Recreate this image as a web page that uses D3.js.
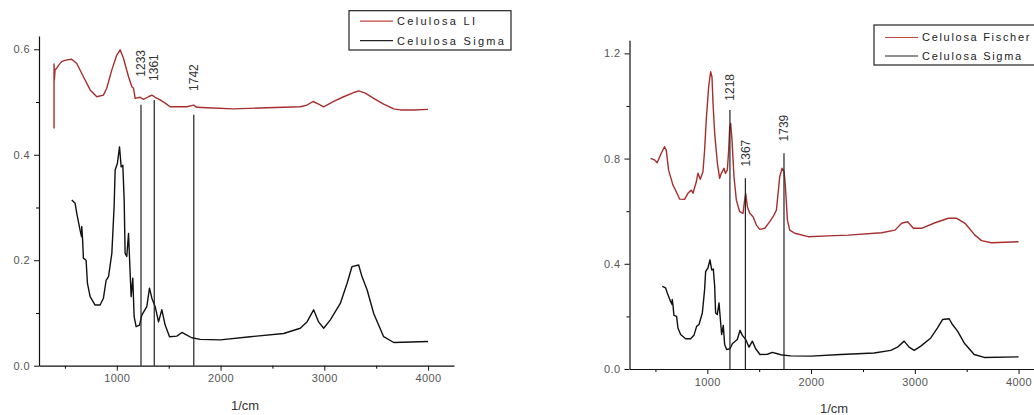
<!DOCTYPE html>
<html>
<head>
<meta charset="utf-8">
<script src="https://cdn.jsdelivr.net/npm/d3@7"></script>
<style>
  html, body { margin: 0; padding: 0; background: #fff; }
  svg { display: block; }
  text { font-family: Arial, "Liberation Sans", sans-serif; }
</style>
</head>
<body>
<svg id="chart" width="1034" height="415"></svg>
<script>
// ---------- DATA ----------
const celulosaLI = [
  [395,0.450],[395,0.572],[398,0.542],[405,0.561],[420,0.564],[440,0.570],[470,0.577],[520,0.580],[566,0.581],
  [614,0.573],[678,0.548],[743,0.523],[807,0.510],[871,0.513],[903,0.526],[952,0.561],[1000,0.589],[1032,0.599],
  [1064,0.583],[1113,0.548],[1145,0.529],[1161,0.526],[1177,0.507],[1225,0.509],[1257,0.505],[1305,0.510],
  [1338,0.513],[1370,0.509],[1418,0.504],[1466,0.498],[1514,0.491],[1611,0.491],[1675,0.491],[1740,0.494],
  [1772,0.490],[1868,0.489],[2125,0.487],[2447,0.489],[2768,0.491],[2833,0.494],[2891,0.501],[2945,0.496],
  [2994,0.491],[3090,0.501],[3186,0.510],[3283,0.518],[3331,0.521],[3395,0.517],[3476,0.507],[3572,0.496],
  [3669,0.487],[3733,0.485],[3862,0.485],[4000,0.486]
];
const celulosaSigma = [
  [566,0.314],[598,0.308],[614,0.289],[646,0.257],[660,0.245],[662,0.264],[670,0.240],[678,0.204],[704,0.200],
  [717,0.156],[743,0.131],[791,0.115],[839,0.115],[871,0.128],[897,0.162],[920,0.169],[952,0.213],[974,0.302],
  [984,0.371],[1006,0.384],[1026,0.415],[1042,0.377],[1058,0.380],[1071,0.314],[1080,0.213],[1096,0.207],
  [1113,0.251],[1122,0.207],[1138,0.131],[1154,0.166],[1167,0.093],[1186,0.074],[1219,0.077],[1241,0.096],
  [1289,0.112],[1315,0.147],[1338,0.128],[1370,0.112],[1402,0.083],[1434,0.106],[1466,0.077],[1508,0.055],
  [1579,0.056],[1627,0.063],[1675,0.058],[1723,0.053],[1804,0.050],[1997,0.049],[2286,0.055],[2608,0.061],
  [2768,0.071],[2833,0.083],[2897,0.106],[2945,0.083],[2994,0.071],[3058,0.087],[3154,0.118],[3219,0.156],
  [3267,0.188],[3331,0.191],[3363,0.169],[3412,0.144],[3476,0.099],[3572,0.055],[3669,0.044],[4000,0.046]
];
const celulosaFischer = [
  [453,0.801],[491,0.795],[517,0.784],[556,0.820],[588,0.845],[604,0.832],[627,0.756],[668,0.700],[701,0.674],
  [733,0.646],[781,0.645],[813,0.668],[846,0.680],[862,0.668],[894,0.712],[910,0.744],[932,0.721],[958,0.750],
  [974,0.832],[990,0.947],[1013,1.073],[1032,1.130],[1045,1.110],[1055,1.010],[1071,0.896],[1097,0.782],
  [1119,0.725],[1135,0.744],[1161,0.763],[1174,0.744],[1193,0.756],[1206,0.832],[1216,0.921],[1225,0.934],
  [1238,0.871],[1257,0.731],[1280,0.642],[1312,0.598],[1344,0.592],[1360,0.642],[1370,0.668],[1386,0.617],
  [1409,0.592],[1441,0.579],[1473,0.547],[1505,0.531],[1554,0.535],[1602,0.560],[1634,0.579],[1666,0.604],
  [1698,0.731],[1721,0.763],[1740,0.750],[1753,0.693],[1772,0.566],[1795,0.528],[1843,0.516],[1972,0.503],
  [2165,0.506],[2358,0.509],[2680,0.518],[2809,0.528],[2873,0.554],[2931,0.560],[2986,0.535],[3066,0.535],
  [3195,0.556],[3324,0.573],[3404,0.573],[3484,0.554],[3579,0.509],[3643,0.488],[3740,0.480],[4000,0.484]
];
// marker lines: wavenumber, top of line (y value), label anchor (y value)
const markersLeft = [
  {wn:1233, top:0.495, label:0.548},
  {wn:1361, top:0.504, label:0.540},
  {wn:1742, top:0.476, label:0.521}
];
const markersRight = [
  {wn:1218, top:0.985, label:1.02},
  {wn:1367, top:0.725, label:0.77},
  {wn:1739, top:0.820, label:0.865}
];
const xDomain = [250, 4250];
const xMajorTicks = [1000, 2000, 3000, 4000];
const xMinorTicks = [500, 1500, 2500, 3500];
const yLeftDomain = [0, 0.625];
const yLeftMajor = [0, 0.2, 0.4, 0.6];
const yLeftMinor = [0.1, 0.3, 0.5];
const yRightDomain = [0, 1.25];
const yRightMajor = [0, 0.4, 0.8, 1.2];
const yRightMinor = [0.2, 0.6, 1.0];
const legendLeft = ["Celulosa LI", "Celulosa Sigma"];
const legendRight = ["Celulosa Fischer", "Celulosa Sigma"];
const xTitle = "1/cm";

// ---------- DRAW ----------
const RED = "#a52f2f";
const svg = d3.select("#chart");

function panel(cfg) {
  const g = svg.append("g");
  const x = d3.scaleLinear().domain(xDomain).range([cfg.x0, cfg.x1]);
  const y = d3.scaleLinear().domain(cfg.yDomain).range([cfg.yBottom, cfg.yTop]);

  // minor ticks
  g.append("g").attr("transform", `translate(0,${cfg.yBottom})`)
    .call(d3.axisBottom(x).tickValues(xMinorTicks).tickSize(3).tickFormat(""))
    .call(a => a.select(".domain").remove());
  g.append("g").attr("transform", `translate(${cfg.x0},0)`)
    .call(d3.axisLeft(y).tickValues(cfg.yMinor).tickSize(3).tickFormat(""))
    .call(a => a.select(".domain").remove());

  const xa = g.append("g").attr("transform", `translate(0,${cfg.yBottom})`)
    .call(d3.axisBottom(x).tickValues(xMajorTicks).tickSize(5).tickPadding(4).tickSizeOuter(0).tickFormat(d3.format("d")));
  const ya = g.append("g").attr("transform", `translate(${cfg.x0},0)`)
    .call(d3.axisLeft(y).tickValues(cfg.yMajor).tickSize(5).tickPadding(4).tickSizeOuter(0).tickFormat(d3.format(".1f")));
  [xa, ya].forEach(a => {
    a.selectAll("text").attr("font-size", 11).attr("letter-spacing", "0.4px").attr("fill", "#555")
      .attr("font-family", "Arial, 'Liberation Sans', sans-serif");
    a.selectAll("line").attr("stroke", "#111");
    a.select(".domain").attr("stroke", "#111").attr("stroke-width", 1.2);
  });

  const line = d3.line().x(d => x(d[0])).y(d => y(d[1]));
  cfg.series.forEach(s => {
    g.append("path").datum(s.data).attr("d", line)
      .attr("fill", "none").attr("stroke", s.color).attr("stroke-width", 1.4)
      .attr("stroke-linejoin", "round");
  });

  // markers
  cfg.markers.forEach(m => {
    g.append("line").attr("x1", x(m.wn)).attr("x2", x(m.wn))
      .attr("y1", y(m.top)).attr("y2", y(0))
      .attr("stroke", "#222").attr("stroke-width", 1.2);
    g.append("text")
      .attr("transform", `translate(${x(m.wn)},${y(m.label)}) rotate(-90)`)
      .attr("dy", "0.35em").attr("font-size", 12).attr("fill", "#333")
      .text(m.wn);
  });

  // x title
  g.append("text").attr("x", cfg.titleX).attr("y", cfg.titleY)
    .attr("text-anchor", "middle").attr("font-size", 13).attr("fill", "#333")
    .text(xTitle);

  // legend
  const lg = g.append("g");
  lg.append("rect").attr("x", cfg.legX).attr("y", cfg.legY).attr("width", cfg.legW).attr("height", cfg.legH)
    .attr("fill", "#fff").attr("stroke", "#222").attr("stroke-width", 1.2);
  cfg.legend.forEach((name, i) => {
    const cy = cfg.legY + cfg.legRow0 + i * cfg.legStep;
    lg.append("line").attr("x1", cfg.legX + 11).attr("x2", cfg.legX + 44)
      .attr("y1", cy).attr("y2", cy)
      .attr("stroke", cfg.series[i].color === RED ? "#c04545" : "#222").attr("stroke-width", 1.2);
    lg.append("text").attr("x", cfg.legX + 48).attr("y", cy).attr("dy", "0.36em")
      .attr("font-size", 11).attr("letter-spacing", cfg.legSpacing).attr("fill", "#222")
      .text(name);
  });
}

panel({
  x0: 39, x1: 454, yBottom: 365.7, yTop: 36.1,
  yDomain: yLeftDomain, yMajor: yLeftMajor, yMinor: yLeftMinor,
  series: [{data: celulosaLI, color: RED}, {data: celulosaSigma, color: "#111"}],
  markers: markersLeft,
  titleX: 245, titleY: 410,
  legend: legendLeft, legX: 349, legY: 10.7, legW: 162, legH: 39.3, legRow0: 10.5, legStep: 19.5,
  legSpacing: "2.3px"
});

panel({
  x0: 629.5, x1: 1044.5, yBottom: 369, yTop: 40.2,
  yDomain: yRightDomain, yMajor: yRightMajor, yMinor: yRightMinor,
  series: [{data: celulosaFischer, color: RED}, {data: celulosaSigma, color: "#111"}],
  markers: markersRight,
  titleX: 834, titleY: 413,
  legend: legendRight, legX: 874, legY: 25, legW: 175, legH: 40, legRow0: 12.5, legStep: 18.5,
  legSpacing: "1.7px"
});
</script>
</body>
</html>
